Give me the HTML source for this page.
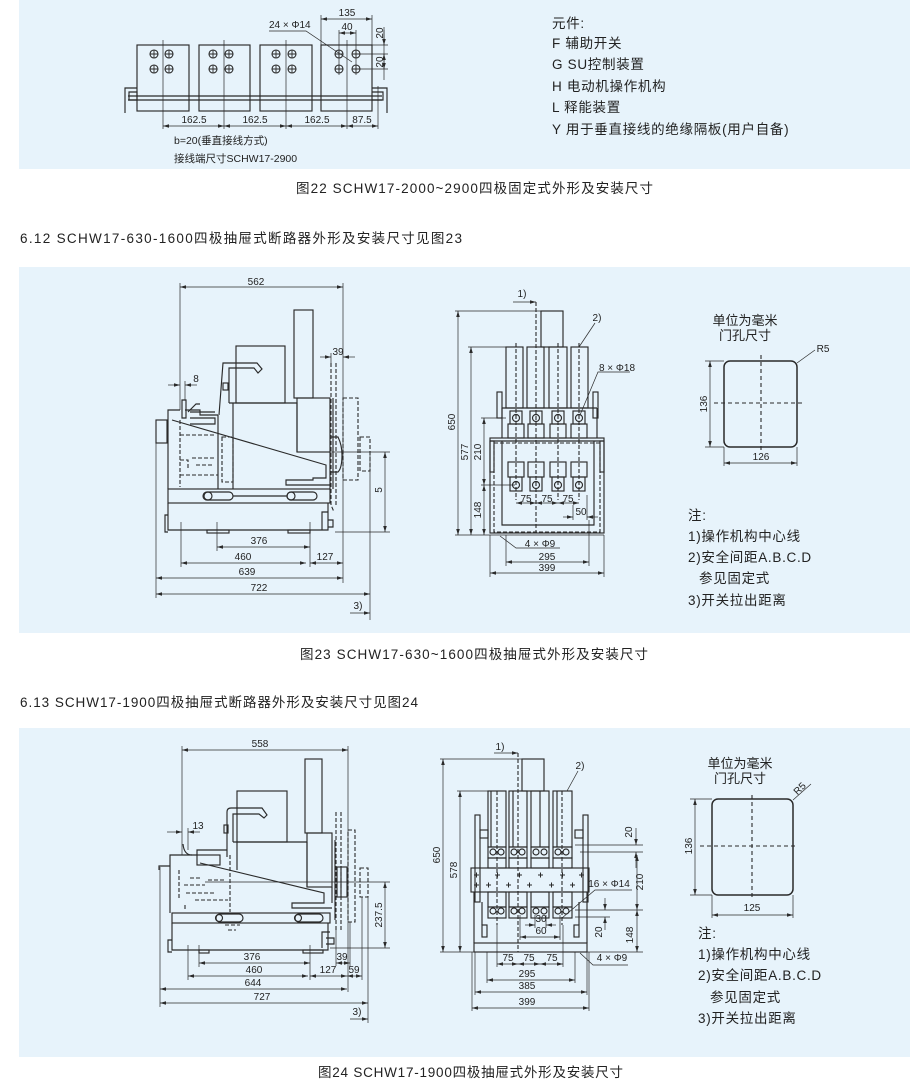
<!DOCTYPE html>
<html><head><meta charset="utf-8">
<style>
html,body{margin:0;padding:0;background:#fff;}
svg{display:block;}
text{font-family:"Liberation Sans","Noto Sans CJK SC",sans-serif;fill:#222;}
.d{font-size:10px;}
.t{font-size:13.5px;letter-spacing:0.7px;}
.c{font-size:13.5px;}
.s{font-size:10.5px;}
</style></head><body>
<svg width="910" height="1079" viewBox="0 0 910 1079" xmlns="http://www.w3.org/2000/svg">
<defs>
<marker id="a" viewBox="0 0 10 10" refX="10" refY="5" markerUnits="userSpaceOnUse" markerWidth="6" markerHeight="6" orient="auto-start-reverse"><path d="M0,2 L10,5 L0,8z" fill="#2a2a2a"/></marker>
<g id="h"><circle r="4" fill="none" stroke="#2a2a2a" stroke-width="1.1"/><path d="M-4,0H4M0,-4V4" stroke="#2a2a2a" stroke-width="0.9"/></g>
</defs>

<!-- panels -->
<rect x="19" y="0" width="891" height="169" fill="#e7f3fb"/>
<rect x="19" y="267" width="891" height="366" fill="#e7f3fb"/>
<rect x="19" y="728" width="891" height="329" fill="#e7f3fb"/>

<!-- captions / headings -->
<text class="c" x="296" y="193" textLength="357" lengthAdjust="spacing">图22 SCHW17-2000~2900四极固定式外形及安装尺寸</text>
<text class="c" x="20" y="243" textLength="442" lengthAdjust="spacing">6.12 SCHW17-630-1600四极抽屉式断路器外形及安装尺寸见图23</text>
<text class="c" x="300" y="659" textLength="348" lengthAdjust="spacing">图23 SCHW17-630~1600四极抽屉式外形及安装尺寸</text>
<text class="c" x="20" y="707" textLength="398" lengthAdjust="spacing">6.13 SCHW17-1900四极抽屉式断路器外形及安装尺寸见图24</text>
<text class="c" x="318" y="1077" textLength="305" lengthAdjust="spacing">图24 SCHW17-1900四极抽屉式外形及安装尺寸</text>

<!-- ============ FIG 22 (top) ============ -->
<g fill="none" stroke="#2a2a2a" stroke-width="1.15">
<rect x="137" y="45" width="52" height="66"/>
<rect x="199" y="45" width="51" height="66"/>
<rect x="260" y="45" width="52" height="66"/>
<rect x="321" y="45" width="51" height="66"/>
<path d="M128,96H382M128,100H382"/>
<path d="M137,88H125V113M129,92H137V100H129Z"/>
<path d="M372,88H387V113M372,92H383V100H372"/>
</g>
<use href="#h" x="154" y="54"/><use href="#h" x="169" y="54"/><use href="#h" x="154" y="69"/><use href="#h" x="169" y="69"/>
<use href="#h" x="213" y="54"/><use href="#h" x="229" y="54"/><use href="#h" x="213" y="69"/><use href="#h" x="229" y="69"/>
<use href="#h" x="276" y="54"/><use href="#h" x="292" y="54"/><use href="#h" x="276" y="69"/><use href="#h" x="292" y="69"/>
<use href="#h" x="339" y="54"/><use href="#h" x="356" y="54"/><use href="#h" x="339" y="69"/><use href="#h" x="356" y="69"/>
<g fill="none" stroke="#2a2a2a" stroke-width="0.7">
<path d="M163,40V129M224,40V129M286,40V129M347,40V129M378,86V129"/>
<path d="M321,15V45M372,15V45M339,30V75M356,30V75"/>
<path d="M360,54H388M360,69H388M372,45H388M384,27V80"/>
<path d="M163,126H224" marker-start="url(#a)" marker-end="url(#a)"/>
<path d="M224,126H286" marker-start="url(#a)" marker-end="url(#a)"/>
<path d="M286,126H347" marker-start="url(#a)" marker-end="url(#a)"/>
<path d="M347,126H378" marker-start="url(#a)" marker-end="url(#a)"/>
<path d="M321,19H372" marker-start="url(#a)" marker-end="url(#a)"/>
<path d="M339,33H356" marker-start="url(#a)" marker-end="url(#a)"/>
<path d="M384,30V45" marker-end="url(#a)"/>
<path d="M384,54V69" marker-start="url(#a)" marker-end="url(#a)"/>
<path d="M269,31H306L352,62"/>
</g>
<g class="d" text-anchor="middle">
<text x="194" y="123">162.5</text><text x="255" y="123">162.5</text><text x="317" y="123">162.5</text><text x="362" y="123">87.5</text>
<text x="347" y="16">135</text><text x="347" y="30">40</text>
<text transform="translate(383,33) rotate(-90)">20</text>
<text transform="translate(383,62) rotate(-90)">20</text>
</g>
<text class="d" x="269" y="28">24 × Φ14</text>
<text class="s" x="174" y="144">b=20(垂直接线方式)</text>
<text class="s" x="174" y="162">接线端尺寸SCHW17-2900</text>

<g class="t">
<text x="552" y="28">元件:</text>
<text x="552" y="48">F 辅助开关</text>
<text x="552" y="69">G SU控制装置</text>
<text x="552" y="91">H 电动机操作机构</text>
<text x="552" y="112">L 释能装置</text>
<text x="552" y="134">Y 用于垂直接线的绝缘隔板(用户自备)</text>
</g>

<!-- ============ FIG 23 left ============ -->
<g fill="none" stroke="#2a2a2a" stroke-width="1.15">
<rect x="156" y="420" width="11" height="23"/>
<path d="M168,489V410H180M185,410H200V415H218"/>
<path d="M182,400V418H186V400Z"/>
<path d="M188,412L196,404H200"/>
<path d="M219,415L223,363H257L262,369L258,373L254,368H229V403"/>
<rect x="223" y="383" width="5" height="7"/>
<rect x="236" y="346" width="49" height="57"/>
<rect x="294" y="310" width="19" height="88"/>
<path d="M229,403H297V452"/>
<rect x="297" y="398" width="33" height="54"/>
<path d="M330,452V489M333,398V489"/>
<path d="M218,415V489M233,403V489"/>
<path d="M172,420L326,465V478H313V480H286V485H330"/>
<path d="M190,418H215V424H190M190,412H215"/>
<rect x="168" y="489" width="162" height="14"/>
<rect x="203" y="492" width="30" height="8" rx="4"/>
<circle cx="208" cy="496" r="4"/>
<rect x="287" y="492" width="30" height="8" rx="4"/>
<circle cx="291" cy="496" r="4"/>
<path d="M233,496H287"/>
<path d="M168,503V530H328V503"/>
<path d="M168,515H165V532H168"/>
<rect x="207" y="530" width="22" height="3"/>
<rect x="288" y="530" width="22" height="3"/>
<path d="M322,530V512H328M328,520H333V527H328"/>
<path d="M331,437H338Q342,445 342,455Q342,468 338,472H331"/>
</g>
<g fill="none" stroke="#2a2a2a" stroke-width="1.1" stroke-dasharray="4,2">
<path d="M180,420V487M180,435H215M180,475H218M180,460H188V470M192,458H215M196,465H213"/>
<rect x="222" y="437" width="11" height="45"/>
<path d="M331,363V505L334,512M336,363V505"/>
<rect x="343" y="398" width="15" height="82"/>
<rect x="360" y="437" width="10" height="34"/>
</g>
<g fill="none" stroke="#2a2a2a" stroke-width="0.7">
<path d="M180,283V410M343,283V583M185,381V400M331,353V363"/>
<path d="M330,452H390M335,532H390M370,452V620"/>
<path d="M156,443V598M181,522V567M217,522V551M310,522V567"/>
<path d="M180,287H343" marker-start="url(#a)" marker-end="url(#a)"/>
<path d="M168,385H180" marker-end="url(#a)"/>
<path d="M197,385H185" marker-end="url(#a)"/>
<path d="M320,357H331" marker-end="url(#a)"/>
<path d="M355,357H343" marker-end="url(#a)"/>
<path d="M385,452V532" marker-start="url(#a)" marker-end="url(#a)"/>
<path d="M217,547H310" marker-start="url(#a)" marker-end="url(#a)"/>
<path d="M181,563H306" marker-start="url(#a)" marker-end="url(#a)"/>
<path d="M310,563H343" marker-start="url(#a)" marker-end="url(#a)"/>
<path d="M156,578H343" marker-start="url(#a)" marker-end="url(#a)"/>
<path d="M156,594H370" marker-start="url(#a)" marker-end="url(#a)"/>
<path d="M350,613H370" marker-end="url(#a)"/>
</g>
<g class="d" text-anchor="middle">
<text x="256" y="285">562</text>
<text x="196" y="382">8</text>
<text x="338" y="355">39</text>
<text transform="translate(382,490) rotate(-90)">5</text>
<text x="259" y="544">376</text>
<text x="243" y="560">460</text>
<text x="325" y="560">127</text>
<text x="247" y="575">639</text>
<text x="259" y="591">722</text>
<text x="358" y="609">3)</text>
</g>

<!-- ============ FIG 23 middle ============ -->
<g fill="none" stroke="#2a2a2a" stroke-width="1.15">
<rect x="541" y="311" width="22" height="36"/>
<rect x="506" y="347" width="17" height="61"/>
<rect x="527" y="347" width="17" height="61"/>
<rect x="549" y="347" width="18" height="61"/>
<rect x="571" y="347" width="17" height="61"/>
<rect x="497" y="392" width="5" height="26"/>
<rect x="593" y="392" width="5" height="26"/>
<path d="M502,408H597M502,408V438M597,408V438"/>
<rect x="510" y="411" width="12" height="13"/><rect x="530" y="411" width="12" height="13"/><rect x="552" y="411" width="12" height="13"/><rect x="573" y="411" width="12" height="13"/>
<circle cx="516" cy="418" r="3.5"/><circle cx="536" cy="418" r="3.5"/><circle cx="558" cy="418" r="3.5"/><circle cx="579" cy="418" r="3.5"/>
<rect x="508" y="424" width="16" height="14"/><rect x="528" y="424" width="16" height="14"/><rect x="550" y="424" width="16" height="14"/><rect x="571" y="424" width="16" height="14"/>
<rect x="490" y="438" width="114" height="95"/>
<path d="M490,441H604"/>
<rect x="490" y="441" width="4" height="31"/>
<rect x="600" y="441" width="4" height="31"/>
<path d="M502,441V525H594V441"/>
<rect x="508" y="462" width="16" height="15"/><rect x="528" y="462" width="16" height="15"/><rect x="550" y="462" width="16" height="15"/><rect x="571" y="462" width="16" height="15"/>
<rect x="510" y="477" width="12" height="14"/><rect x="530" y="477" width="12" height="14"/><rect x="552" y="477" width="12" height="14"/><rect x="573" y="477" width="12" height="14"/>
<circle cx="516" cy="485" r="3.5"/><circle cx="536" cy="485" r="3.5"/><circle cx="558" cy="485" r="3.5"/><circle cx="579" cy="485" r="3.5"/>
</g>
<g fill="none" stroke="#2a2a2a" stroke-width="1.1" stroke-dasharray="4,2">
<rect x="494" y="443" width="106" height="89"/>
<path d="M516,343V500M558,343V500M579,343V500M536,302V533"/>
</g>
<g fill="none" stroke="#2a2a2a" stroke-width="0.7">
<path d="M455,311H541M468,347H506M481,418H506M481,485H515M455,535H604"/>
<path d="M506,535V566M589,520V566M490,535V577M604,535V577"/>
<path d="M458,311V535" marker-start="url(#a)" marker-end="url(#a)"/>
<path d="M471,347V535" marker-start="url(#a)" marker-end="url(#a)"/>
<path d="M484,418V485" marker-start="url(#a)" marker-end="url(#a)"/>
<path d="M484,485V535" marker-start="url(#a)" marker-end="url(#a)"/>
<path d="M516,503H536" marker-start="url(#a)" marker-end="url(#a)"/>
<path d="M536,503H558" marker-start="url(#a)" marker-end="url(#a)"/>
<path d="M558,503H579" marker-start="url(#a)" marker-end="url(#a)"/>
<path d="M563,517H573" marker-end="url(#a)"/>
<path d="M598,517H587" marker-end="url(#a)"/>
<path d="M573,505V520M587,495V520"/>
<path d="M506,562H589" marker-start="url(#a)" marker-end="url(#a)"/>
<path d="M490,573H604" marker-start="url(#a)" marker-end="url(#a)"/>
<path d="M513,302H536" marker-end="url(#a)"/>
<path d="M500,536L516,548H560"/>
<path d="M595,323L579,347"/>
<path d="M630,372H598L580,415"/>
</g>
<g class="d" text-anchor="middle">
<text x="522" y="297">1)</text>
<text x="597" y="321">2)</text>
<text x="617" y="371">8 × Φ18</text>
<text transform="translate(455,422) rotate(-90)">650</text>
<text transform="translate(468,452) rotate(-90)">577</text>
<text transform="translate(481,452) rotate(-90)">210</text>
<text transform="translate(481,510) rotate(-90)">148</text>
<text x="526" y="502">75</text><text x="547" y="502">75</text><text x="568" y="502">75</text>
<text x="581" y="515">50</text>
<text x="540" y="547">4 × Φ9</text>
<text x="547" y="560">295</text>
<text x="547" y="571">399</text>
</g>

<!-- ============ FIG 23 right ============ -->
<g class="c" text-anchor="middle" style="font-size:13px">
<text x="745" y="325">单位为毫米</text>
<text x="745" y="340">门孔尺寸</text>
</g>
<rect x="724" y="361" width="73" height="86" rx="6" fill="none" stroke="#2a2a2a" stroke-width="1.5"/>
<g fill="none" stroke="#2a2a2a" stroke-width="1.1" stroke-dasharray="4,3">
<path d="M761,355V452M714,403H805"/>
</g>
<g fill="none" stroke="#2a2a2a" stroke-width="0.7">
<path d="M705,361H724M705,447H724M724,447V466M797,447V466"/>
<path d="M710,361V447" marker-start="url(#a)" marker-end="url(#a)"/>
<path d="M724,463H797" marker-start="url(#a)" marker-end="url(#a)"/>
<path d="M797,363L815,350"/>
</g>
<g class="d" text-anchor="middle">
<text x="823" y="352">R5</text>
<text transform="translate(707,404) rotate(-90)">136</text>
<text x="761" y="460">126</text>
</g>
<g class="t">
<text x="688" y="520">注:</text>
<text x="688" y="541">1)操作机构中心线</text>
<text x="688" y="562">2)安全间距A.B.C.D</text>
<text x="699" y="583">参见固定式</text>
<text x="688" y="605">3)开关拉出距离</text>
</g>

<!-- ============ FIG 24 left ============ -->
<g fill="none" stroke="#2a2a2a" stroke-width="1.15">
<rect x="305" y="759" width="17" height="74"/>
<rect x="237" y="791" width="50" height="51"/>
<path d="M227,857V812Q227,808 231,808H262L267,815L264,818L259,814H233V842"/>
<rect x="224" y="825" width="4" height="8"/>
<rect x="307" y="833" width="25" height="54"/>
<path d="M332,887V903M335,840V920"/>
<path d="M233,842H307"/>
<path d="M237,842V870M307,842V887"/>
<path d="M170,913V855H197V850H227"/>
<path d="M183,844Q184,855 192,855"/>
<rect x="197" y="855" width="23" height="10"/>
<path d="M200,863L324,893V903H313H292V908H332"/>
<path d="M159,870V866H170"/>
<rect x="172" y="913" width="158" height="10"/>
<rect x="216" y="914" width="27" height="8" rx="4"/>
<circle cx="219" cy="918" r="3.5"/>
<rect x="295" y="914" width="28" height="8" rx="4"/>
<circle cx="298" cy="918" r="3.5"/>
<path d="M172,923V950H328V923"/>
<path d="M172,940H168V952H172"/>
<rect x="199" y="950" width="10" height="3"/>
<rect x="303" y="950" width="20" height="3"/>
<path d="M322,948V932H330M326,938H334V944H326"/>
<rect x="337" y="867" width="10" height="30"/>
<path d="M341,867V897"/>
</g>
<g fill="none" stroke="#2a2a2a" stroke-width="1.1" stroke-dasharray="4,2">
<path d="M230,855V912M179,870V900M184,885H205M186,893H215M190,878H200M208,880H225M195,900H228M185,905V910"/>
<path d="M225,925H240M228,930H236"/>
<path d="M336,812V930M341,812V930"/>
<rect x="348" y="830" width="7" height="92"/>
<rect x="360" y="868" width="8" height="29"/>
</g>
<g fill="none" stroke="#2a2a2a" stroke-width="0.7">
<path d="M182,746V855M348,746V992M188,828V850"/>
<path d="M205,882H390M330,948H390"/>
<path d="M199,945V967M310,945V980M188,945V980M336,930V966M350,922V966M362,897V980M160,867V1007M368,897V1023"/>
<path d="M182,750H348" marker-start="url(#a)" marker-end="url(#a)"/>
<path d="M167,832H182" marker-end="url(#a)"/>
<path d="M200,832H188" marker-end="url(#a)"/>
<path d="M385,882V948" marker-start="url(#a)" marker-end="url(#a)"/>
<path d="M199,963H310" marker-start="url(#a)" marker-end="url(#a)"/>
<path d="M336,963H350" marker-start="url(#a)" marker-end="url(#a)"/>
<path d="M188,976H308" marker-start="url(#a)" marker-end="url(#a)"/>
<path d="M310,976H347" marker-start="url(#a)" marker-end="url(#a)"/>
<path d="M347,976H362" marker-start="url(#a)" marker-end="url(#a)"/>
<path d="M160,989H347" marker-start="url(#a)" marker-end="url(#a)"/>
<path d="M160,1003H368" marker-start="url(#a)" marker-end="url(#a)"/>
<path d="M350,1019H368" marker-end="url(#a)"/>
</g>
<g class="d" text-anchor="middle">
<text x="260" y="747">558</text>
<text x="198" y="829">13</text>
<text transform="translate(382,915) rotate(-90)">237.5</text>
<text x="252" y="960">376</text>
<text x="342" y="960">39</text>
<text x="254" y="973">460</text>
<text x="328" y="973">127</text>
<text x="354" y="973">59</text>
<text x="253" y="986">644</text>
<text x="262" y="1000">727</text>
<text x="357" y="1015">3)</text>
</g>

<!-- ============ FIG 24 middle ============ -->
<g fill="none" stroke="#2a2a2a" stroke-width="1.15">
<rect x="522" y="759" width="22" height="32"/>
<rect x="488" y="791" width="18" height="56"/>
<rect x="509" y="791" width="18" height="56"/>
<rect x="531" y="791" width="18" height="56"/>
<rect x="553" y="791" width="19" height="56"/>
<path d="M513,791V847M540,791V847M557,791V847M491,791V847"/>
<rect x="488" y="847" width="18" height="11"/><rect x="509" y="847" width="18" height="11"/><rect x="531" y="847" width="18" height="11"/><rect x="553" y="847" width="19" height="11"/>
<circle cx="493" cy="852" r="3"/><circle cx="501" cy="852" r="3"/>
<circle cx="514" cy="852" r="3"/><circle cx="522" cy="852" r="3"/>
<circle cx="536" cy="852" r="3"/><circle cx="544" cy="852" r="3"/>
<circle cx="558" cy="852" r="3"/><circle cx="566" cy="852" r="3"/>
<rect x="488" y="858" width="18" height="10"/><rect x="509" y="858" width="18" height="10"/><rect x="531" y="858" width="18" height="10"/><rect x="553" y="858" width="19" height="10"/>
<rect x="471" y="868" width="118" height="24"/>
<rect x="475" y="815" width="5" height="87"/>
<rect x="583" y="815" width="5" height="87"/>
<rect x="480" y="830" width="8" height="8"/>
<rect x="575" y="830" width="8" height="8"/>
<rect x="488" y="892" width="18" height="15"/><rect x="509" y="892" width="18" height="15"/><rect x="531" y="892" width="18" height="15"/><rect x="553" y="892" width="19" height="15"/>
<rect x="488" y="907" width="18" height="11"/><rect x="509" y="907" width="18" height="11"/><rect x="531" y="907" width="18" height="11"/><rect x="553" y="907" width="19" height="11"/>
<circle cx="493" cy="911" r="3"/><circle cx="501" cy="911" r="3"/>
<circle cx="514" cy="911" r="3"/><circle cx="522" cy="911" r="3"/>
<circle cx="536" cy="911" r="3"/><circle cx="544" cy="911" r="3"/>
<circle cx="558" cy="911" r="3"/><circle cx="566" cy="911" r="3"/>
<path d="M474,892V943M587,892V943M482,902V925M579,902V925"/>
<rect x="482" y="925" width="5" height="12"/>
<rect x="574" y="925" width="5" height="12"/>
<rect x="474" y="943" width="113" height="9"/>
</g>
<g stroke="#2a2a2a" stroke-width="1">
<path d="M474,875h5M476.5,872.5v5M495,875h5M497.5,872.5v5M517,875h5M519.5,872.5v5M538,875h5M540.5,872.5v5M560,875h5M562.5,872.5v5M579,875h5M581.5,872.5v5"/>
<path d="M474,885h5M476.5,882.5v5M486,885h5M488.5,882.5v5M506,885h5M508.5,882.5v5M527,885h5M529.5,882.5v5M549,885h5M551.5,882.5v5M570,885h5M572.5,882.5v5"/>
</g>
<g fill="none" stroke="#2a2a2a" stroke-width="1.1" stroke-dasharray="4,2">
<path d="M518,753V952M497,791V925M562,791V925"/>
<path d="M474,952H587"/>
</g>
<g fill="none" stroke="#2a2a2a" stroke-width="0.7">
<path d="M440,759H522M457,791H488M440,952H643M575,845H643M580,852H643M575,910H643M575,917H610"/>
<path d="M497,925V967M563,925V967M475,952V995M587,952V995M472,952V1011M589,952V1011M487,952V983M575,952V983"/>
<path d="M443,759V952" marker-start="url(#a)" marker-end="url(#a)"/>
<path d="M460,791V952" marker-start="url(#a)" marker-end="url(#a)"/>
<path d="M636,828V845" marker-end="url(#a)"/>
<path d="M636,868V852" marker-end="url(#a)"/>
<path d="M637,855V910" marker-start="url(#a)" marker-end="url(#a)"/>
<path d="M637,910V952" marker-start="url(#a)" marker-end="url(#a)"/>
<path d="M605,898V910" marker-end="url(#a)"/>
<path d="M605,930V917" marker-end="url(#a)"/>
<path d="M497,964H518" marker-start="url(#a)" marker-end="url(#a)"/>
<path d="M518,964H540" marker-start="url(#a)" marker-end="url(#a)"/>
<path d="M540,964H563" marker-start="url(#a)" marker-end="url(#a)"/>
<path d="M525,925H535" marker-end="url(#a)"/>
<path d="M556,925H546" marker-end="url(#a)"/>
<path d="M535,915V928M546,915V928M520,915V940M560,915V940"/>
<path d="M520,937H560" marker-start="url(#a)" marker-end="url(#a)"/>
<path d="M487,980H575" marker-start="url(#a)" marker-end="url(#a)"/>
<path d="M475,992H587" marker-start="url(#a)" marker-end="url(#a)"/>
<path d="M472,1008H589" marker-start="url(#a)" marker-end="url(#a)"/>
<path d="M494,753H518" marker-end="url(#a)"/>
<path d="M578,771L567,791"/>
<path d="M632,890H595L562,918"/>
<path d="M580,953L593,965H628"/>
</g>
<g class="d" text-anchor="middle">
<text x="500" y="750">1)</text>
<text x="580" y="769">2)</text>
<text transform="translate(440,855) rotate(-90)">650</text>
<text transform="translate(457,870) rotate(-90)">578</text>
<text transform="translate(632,832) rotate(-90)">20</text>
<text transform="translate(643,882) rotate(-90)">210</text>
<text transform="translate(633,935) rotate(-90)">148</text>
<text transform="translate(602,932) rotate(-90)">20</text>
<text x="609" y="887">16 × Φ14</text>
<text x="541" y="922">30</text>
<text x="541" y="934">60</text>
<text x="508" y="961">75</text><text x="529" y="961">75</text><text x="552" y="961">75</text>
<text x="527" y="977">295</text>
<text x="527" y="989">385</text>
<text x="527" y="1005">399</text>
<text x="612" y="961">4 × Φ9</text>
</g>

<!-- ============ FIG 24 right ============ -->
<g class="c" text-anchor="middle" style="font-size:13px">
<text x="740" y="768">单位为毫米</text>
<text x="740" y="783">门孔尺寸</text>
</g>
<rect x="712" y="799" width="81" height="96" rx="6" fill="none" stroke="#2a2a2a" stroke-width="1.5"/>
<g fill="none" stroke="#2a2a2a" stroke-width="1.1" stroke-dasharray="4,3">
<path d="M752,795V900M700,846H797"/>
</g>
<g fill="none" stroke="#2a2a2a" stroke-width="0.7">
<path d="M690,799H712M690,895H712M712,895V918M793,895V918"/>
<path d="M695,799V895" marker-start="url(#a)" marker-end="url(#a)"/>
<path d="M712,915H793" marker-start="url(#a)" marker-end="url(#a)"/>
<path d="M793,800L811,784"/>
</g>
<g class="d" text-anchor="middle">
<text transform="translate(802,791) rotate(-45)">R5</text>
<text transform="translate(692,846) rotate(-90)">136</text>
<text x="752" y="911">125</text>
</g>
<g class="t">
<text x="698" y="938">注:</text>
<text x="698" y="959">1)操作机构中心线</text>
<text x="698" y="980">2)安全间距A.B.C.D</text>
<text x="710" y="1002">参见固定式</text>
<text x="698" y="1023">3)开关拉出距离</text>
</g>
</svg>
</body></html>
